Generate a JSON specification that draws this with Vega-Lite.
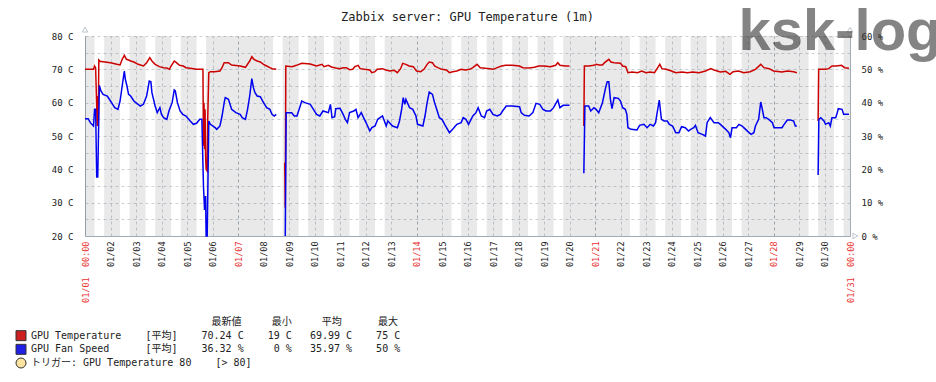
{
"$schema": "https://vega.github.io/schema/vega-lite/v6.json",
"width": 765, "height": 200,
"autosize": {"type": "none"},
"padding": {"left": 85, "top": 36, "right": 86, "bottom": 146},
"background": "white",
"title": {"text": "Zabbix server: GPU Temperature (1m)", "font": "DejaVu Sans Mono", "fontSize": 12, "fontWeight": "normal", "color": "#222222", "anchor": "middle", "frame": "group", "offset": -29, "baseline": "alphabetic"},
"config": {"view": {"stroke": null}, "axis": {"domainColor": "#a2acb4", "ticks": false, "labelFont": "DejaVu Sans Mono", "labelColor": "#222222", "gridDash": [3, 3], "gridColor": "#ccd3d8"}},
"datasets": {
"offhours": [
{"start": "2018-01-01T00:00Z", "end": "2018-01-01T09:00Z"},
{"start": "2018-01-01T18:00Z", "end": "2018-01-02T09:00Z"},
{"start": "2018-01-02T18:00Z", "end": "2018-01-03T09:00Z"},
{"start": "2018-01-03T18:00Z", "end": "2018-01-04T09:00Z"},
{"start": "2018-01-04T18:00Z", "end": "2018-01-05T09:00Z"},
{"start": "2018-01-05T18:00Z", "end": "2018-01-08T09:00Z"},
{"start": "2018-01-08T18:00Z", "end": "2018-01-09T09:00Z"},
{"start": "2018-01-09T18:00Z", "end": "2018-01-10T09:00Z"},
{"start": "2018-01-10T18:00Z", "end": "2018-01-11T09:00Z"},
{"start": "2018-01-11T18:00Z", "end": "2018-01-12T09:00Z"},
{"start": "2018-01-12T18:00Z", "end": "2018-01-15T09:00Z"},
{"start": "2018-01-15T18:00Z", "end": "2018-01-16T09:00Z"},
{"start": "2018-01-16T18:00Z", "end": "2018-01-17T09:00Z"},
{"start": "2018-01-17T18:00Z", "end": "2018-01-18T09:00Z"},
{"start": "2018-01-18T18:00Z", "end": "2018-01-19T09:00Z"},
{"start": "2018-01-19T18:00Z", "end": "2018-01-22T09:00Z"},
{"start": "2018-01-22T18:00Z", "end": "2018-01-23T09:00Z"},
{"start": "2018-01-23T18:00Z", "end": "2018-01-24T09:00Z"},
{"start": "2018-01-24T18:00Z", "end": "2018-01-25T09:00Z"},
{"start": "2018-01-25T18:00Z", "end": "2018-01-26T09:00Z"},
{"start": "2018-01-26T18:00Z", "end": "2018-01-29T09:00Z"},
{"start": "2018-01-29T18:00Z", "end": "2018-01-30T09:00Z"},
{"start": "2018-01-30T18:00Z", "end": "2018-01-31T00:00Z"}
],
"temp": [
{"time": "2018-01-01T00:00Z", "value": 70.0, "seg": "a"},
{"time": "2018-01-01T08:00Z", "value": 70.0, "seg": "a"},
{"time": "2018-01-01T09:00Z", "value": 71.0, "seg": "a"},
{"time": "2018-01-01T10:00Z", "value": 70.5, "seg": "a"},
{"time": "2018-01-01T11:30Z", "value": 53, "seg": "a"},
{"time": "2018-01-01T12:00Z", "value": 62, "seg": "a"},
{"time": "2018-01-01T12:30Z", "value": 53, "seg": "a"},
{"time": "2018-01-01T13:00Z", "value": 72.8, "seg": "a"},
{"time": "2018-01-01T14:00Z", "value": 72.4, "seg": "a"},
{"time": "2018-01-01T17:00Z", "value": 72.3, "seg": "a"},
{"time": "2018-01-02T00:00Z", "value": 72.0, "seg": "a"},
{"time": "2018-01-02T06:00Z", "value": 71.5, "seg": "a"},
{"time": "2018-01-02T09:00Z", "value": 71.3, "seg": "a"},
{"time": "2018-01-02T11:00Z", "value": 73.0, "seg": "a"},
{"time": "2018-01-02T13:00Z", "value": 74.2, "seg": "a"},
{"time": "2018-01-02T15:00Z", "value": 73.0, "seg": "a"},
{"time": "2018-01-02T17:00Z", "value": 72.8, "seg": "a"},
{"time": "2018-01-02T19:00Z", "value": 72.5, "seg": "a"},
{"time": "2018-01-02T22:00Z", "value": 72.2, "seg": "a"},
{"time": "2018-01-03T02:00Z", "value": 71.5, "seg": "a"},
{"time": "2018-01-03T07:00Z", "value": 71.0, "seg": "a"},
{"time": "2018-01-03T10:00Z", "value": 72.0, "seg": "a"},
{"time": "2018-01-03T13:00Z", "value": 73.5, "seg": "a"},
{"time": "2018-01-03T15:00Z", "value": 72.5, "seg": "a"},
{"time": "2018-01-03T18:00Z", "value": 71.5, "seg": "a"},
{"time": "2018-01-03T22:00Z", "value": 70.8, "seg": "a"},
{"time": "2018-01-04T02:00Z", "value": 70.5, "seg": "a"},
{"time": "2018-01-04T05:00Z", "value": 70.4, "seg": "a"},
{"time": "2018-01-04T07:30Z", "value": 70.0, "seg": "a"},
{"time": "2018-01-04T09:00Z", "value": 71.0, "seg": "a"},
{"time": "2018-01-04T12:00Z", "value": 72.5, "seg": "a"},
{"time": "2018-01-04T14:00Z", "value": 72.0, "seg": "a"},
{"time": "2018-01-04T17:00Z", "value": 71.2, "seg": "a"},
{"time": "2018-01-04T20:30Z", "value": 71.0, "seg": "a"},
{"time": "2018-01-04T23:00Z", "value": 70.5, "seg": "a"},
{"time": "2018-01-05T03:00Z", "value": 70.3, "seg": "a"},
{"time": "2018-01-05T09:00Z", "value": 70.0, "seg": "a"},
{"time": "2018-01-05T15:00Z", "value": 70.0, "seg": "a"},
{"time": "2018-01-05T15:30Z", "value": 47, "seg": "a"},
{"time": "2018-01-05T16:00Z", "value": 60, "seg": "a"},
{"time": "2018-01-05T16:30Z", "value": 46, "seg": "a"},
{"time": "2018-01-05T17:00Z", "value": 58, "seg": "a"},
{"time": "2018-01-05T17:30Z", "value": 44, "seg": "a"},
{"time": "2018-01-05T18:00Z", "value": 40, "seg": "a"},
{"time": "2018-01-05T19:00Z", "value": 39.5, "seg": "a"},
{"time": "2018-01-05T19:30Z", "value": 55, "seg": "a"},
{"time": "2018-01-05T20:30Z", "value": 69.0, "seg": "a"},
{"time": "2018-01-05T22:00Z", "value": 69.3, "seg": "a"},
{"time": "2018-01-06T02:00Z", "value": 69.3, "seg": "a"},
{"time": "2018-01-06T07:00Z", "value": 69.5, "seg": "a"},
{"time": "2018-01-06T09:00Z", "value": 70.5, "seg": "a"},
{"time": "2018-01-06T11:00Z", "value": 72.0, "seg": "a"},
{"time": "2018-01-06T15:00Z", "value": 72.0, "seg": "a"},
{"time": "2018-01-06T18:00Z", "value": 71.3, "seg": "a"},
{"time": "2018-01-07T02:00Z", "value": 71.0, "seg": "a"},
{"time": "2018-01-07T07:00Z", "value": 70.6, "seg": "a"},
{"time": "2018-01-07T11:00Z", "value": 72.5, "seg": "a"},
{"time": "2018-01-07T13:00Z", "value": 73.8, "seg": "a"},
{"time": "2018-01-07T15:00Z", "value": 73.0, "seg": "a"},
{"time": "2018-01-07T18:00Z", "value": 72.5, "seg": "a"},
{"time": "2018-01-07T21:00Z", "value": 72.2, "seg": "a"},
{"time": "2018-01-08T00:00Z", "value": 71.5, "seg": "a"},
{"time": "2018-01-08T03:00Z", "value": 71.0, "seg": "a"},
{"time": "2018-01-08T06:00Z", "value": 70.5, "seg": "a"},
{"time": "2018-01-08T08:00Z", "value": 70.2, "seg": "a"},
{"time": "2018-01-08T12:00Z", "value": 70.0, "seg": "a"},
{"time": "2018-01-08T20:00Z", "value": 42, "seg": "b"},
{"time": "2018-01-08T20:30Z", "value": 28.5, "seg": "b"},
{"time": "2018-01-08T21:00Z", "value": 71.0, "seg": "b"},
{"time": "2018-01-09T03:00Z", "value": 70.8, "seg": "b"},
{"time": "2018-01-09T07:00Z", "value": 71.2, "seg": "b"},
{"time": "2018-01-09T12:00Z", "value": 71.8, "seg": "b"},
{"time": "2018-01-09T20:00Z", "value": 71.6, "seg": "b"},
{"time": "2018-01-09T23:00Z", "value": 71.3, "seg": "b"},
{"time": "2018-01-10T02:00Z", "value": 71.0, "seg": "b"},
{"time": "2018-01-10T07:00Z", "value": 71.5, "seg": "b"},
{"time": "2018-01-10T09:00Z", "value": 70.8, "seg": "b"},
{"time": "2018-01-10T13:00Z", "value": 71.2, "seg": "b"},
{"time": "2018-01-10T16:00Z", "value": 70.7, "seg": "b"},
{"time": "2018-01-10T20:00Z", "value": 70.4, "seg": "b"},
{"time": "2018-01-11T00:00Z", "value": 70.2, "seg": "b"},
{"time": "2018-01-11T03:00Z", "value": 70.5, "seg": "b"},
{"time": "2018-01-11T06:00Z", "value": 70.5, "seg": "b"},
{"time": "2018-01-11T09:00Z", "value": 69.9, "seg": "b"},
{"time": "2018-01-11T12:00Z", "value": 70.0, "seg": "b"},
{"time": "2018-01-11T14:00Z", "value": 70.8, "seg": "b"},
{"time": "2018-01-11T17:00Z", "value": 71.2, "seg": "b"},
{"time": "2018-01-11T19:00Z", "value": 70.2, "seg": "b"},
{"time": "2018-01-11T23:00Z", "value": 70.0, "seg": "b"},
{"time": "2018-01-12T04:00Z", "value": 69.8, "seg": "b"},
{"time": "2018-01-12T06:00Z", "value": 69.0, "seg": "b"},
{"time": "2018-01-12T09:00Z", "value": 69.3, "seg": "b"},
{"time": "2018-01-12T11:00Z", "value": 70.0, "seg": "b"},
{"time": "2018-01-12T16:00Z", "value": 70.2, "seg": "b"},
{"time": "2018-01-12T19:00Z", "value": 69.8, "seg": "b"},
{"time": "2018-01-12T23:00Z", "value": 69.5, "seg": "b"},
{"time": "2018-01-13T03:00Z", "value": 69.7, "seg": "b"},
{"time": "2018-01-13T06:00Z", "value": 69.0, "seg": "b"},
{"time": "2018-01-13T09:00Z", "value": 70.2, "seg": "b"},
{"time": "2018-01-13T11:00Z", "value": 71.8, "seg": "b"},
{"time": "2018-01-13T14:00Z", "value": 71.5, "seg": "b"},
{"time": "2018-01-13T17:00Z", "value": 71.0, "seg": "b"},
{"time": "2018-01-13T21:00Z", "value": 70.8, "seg": "b"},
{"time": "2018-01-14T00:00Z", "value": 69.5, "seg": "b"},
{"time": "2018-01-14T04:00Z", "value": 69.3, "seg": "b"},
{"time": "2018-01-14T07:00Z", "value": 70.0, "seg": "b"},
{"time": "2018-01-14T10:00Z", "value": 71.5, "seg": "b"},
{"time": "2018-01-14T12:00Z", "value": 72.2, "seg": "b"},
{"time": "2018-01-14T15:00Z", "value": 72.0, "seg": "b"},
{"time": "2018-01-14T17:00Z", "value": 71.0, "seg": "b"},
{"time": "2018-01-14T20:00Z", "value": 70.5, "seg": "b"},
{"time": "2018-01-15T00:00Z", "value": 70.0, "seg": "b"},
{"time": "2018-01-15T04:00Z", "value": 69.8, "seg": "b"},
{"time": "2018-01-15T07:00Z", "value": 69.0, "seg": "b"},
{"time": "2018-01-15T10:00Z", "value": 69.3, "seg": "b"},
{"time": "2018-01-15T14:00Z", "value": 69.5, "seg": "b"},
{"time": "2018-01-15T18:00Z", "value": 70.0, "seg": "b"},
{"time": "2018-01-15T22:00Z", "value": 69.8, "seg": "b"},
{"time": "2018-01-16T02:00Z", "value": 70.0, "seg": "b"},
{"time": "2018-01-16T05:00Z", "value": 70.5, "seg": "b"},
{"time": "2018-01-16T09:00Z", "value": 71.5, "seg": "b"},
{"time": "2018-01-16T12:00Z", "value": 70.5, "seg": "b"},
{"time": "2018-01-16T17:00Z", "value": 70.3, "seg": "b"},
{"time": "2018-01-16T21:00Z", "value": 70.2, "seg": "b"},
{"time": "2018-01-17T00:00Z", "value": 70.0, "seg": "b"},
{"time": "2018-01-17T04:00Z", "value": 70.5, "seg": "b"},
{"time": "2018-01-17T08:00Z", "value": 71.0, "seg": "b"},
{"time": "2018-01-17T12:00Z", "value": 71.2, "seg": "b"},
{"time": "2018-01-17T18:00Z", "value": 71.2, "seg": "b"},
{"time": "2018-01-18T01:00Z", "value": 71.0, "seg": "b"},
{"time": "2018-01-18T04:00Z", "value": 70.5, "seg": "b"},
{"time": "2018-01-18T10:00Z", "value": 70.4, "seg": "b"},
{"time": "2018-01-18T15:00Z", "value": 70.6, "seg": "b"},
{"time": "2018-01-18T19:00Z", "value": 71.0, "seg": "b"},
{"time": "2018-01-19T00:00Z", "value": 71.0, "seg": "b"},
{"time": "2018-01-19T06:00Z", "value": 70.8, "seg": "b"},
{"time": "2018-01-19T11:00Z", "value": 71.2, "seg": "b"},
{"time": "2018-01-19T13:00Z", "value": 72.0, "seg": "b"},
{"time": "2018-01-19T15:00Z", "value": 71.2, "seg": "b"},
{"time": "2018-01-19T20:00Z", "value": 71.0, "seg": "b"},
{"time": "2018-01-20T00:00Z", "value": 71.0, "seg": "b"},
{"time": "2018-01-20T13:30Z", "value": 53, "seg": "c"},
{"time": "2018-01-20T14:00Z", "value": 71.0, "seg": "c"},
{"time": "2018-01-20T18:00Z", "value": 71.0, "seg": "c"},
{"time": "2018-01-20T23:00Z", "value": 71.2, "seg": "c"},
{"time": "2018-01-21T01:00Z", "value": 71.5, "seg": "c"},
{"time": "2018-01-21T04:00Z", "value": 71.3, "seg": "c"},
{"time": "2018-01-21T07:00Z", "value": 71.3, "seg": "c"},
{"time": "2018-01-21T09:00Z", "value": 72.0, "seg": "c"},
{"time": "2018-01-21T13:00Z", "value": 73.0, "seg": "c"},
{"time": "2018-01-21T15:00Z", "value": 72.2, "seg": "c"},
{"time": "2018-01-21T18:00Z", "value": 72.0, "seg": "c"},
{"time": "2018-01-22T00:00Z", "value": 71.8, "seg": "c"},
{"time": "2018-01-22T02:00Z", "value": 71.0, "seg": "c"},
{"time": "2018-01-22T05:00Z", "value": 70.8, "seg": "c"},
{"time": "2018-01-22T07:00Z", "value": 69.0, "seg": "c"},
{"time": "2018-01-22T11:00Z", "value": 69.2, "seg": "c"},
{"time": "2018-01-22T16:00Z", "value": 69.0, "seg": "c"},
{"time": "2018-01-22T20:00Z", "value": 69.5, "seg": "c"},
{"time": "2018-01-23T00:00Z", "value": 69.0, "seg": "c"},
{"time": "2018-01-23T04:00Z", "value": 69.2, "seg": "c"},
{"time": "2018-01-23T08:00Z", "value": 69.0, "seg": "c"},
{"time": "2018-01-23T11:00Z", "value": 70.5, "seg": "c"},
{"time": "2018-01-23T13:00Z", "value": 71.5, "seg": "c"},
{"time": "2018-01-23T15:00Z", "value": 70.2, "seg": "c"},
{"time": "2018-01-23T19:00Z", "value": 70.0, "seg": "c"},
{"time": "2018-01-24T00:00Z", "value": 69.5, "seg": "c"},
{"time": "2018-01-24T04:00Z", "value": 69.0, "seg": "c"},
{"time": "2018-01-24T10:00Z", "value": 69.2, "seg": "c"},
{"time": "2018-01-24T15:00Z", "value": 69.0, "seg": "c"},
{"time": "2018-01-24T20:00Z", "value": 69.2, "seg": "c"},
{"time": "2018-01-25T02:00Z", "value": 69.0, "seg": "c"},
{"time": "2018-01-25T08:00Z", "value": 69.5, "seg": "c"},
{"time": "2018-01-25T13:00Z", "value": 70.2, "seg": "c"},
{"time": "2018-01-25T16:00Z", "value": 69.8, "seg": "c"},
{"time": "2018-01-25T22:00Z", "value": 69.2, "seg": "c"},
{"time": "2018-01-26T03:00Z", "value": 69.4, "seg": "c"},
{"time": "2018-01-26T07:00Z", "value": 68.5, "seg": "c"},
{"time": "2018-01-26T10:00Z", "value": 69.3, "seg": "c"},
{"time": "2018-01-26T15:00Z", "value": 69.5, "seg": "c"},
{"time": "2018-01-26T20:00Z", "value": 69.0, "seg": "c"},
{"time": "2018-01-27T02:00Z", "value": 69.3, "seg": "c"},
{"time": "2018-01-27T07:00Z", "value": 70.0, "seg": "c"},
{"time": "2018-01-27T12:00Z", "value": 71.5, "seg": "c"},
{"time": "2018-01-27T15:00Z", "value": 70.5, "seg": "c"},
{"time": "2018-01-27T20:00Z", "value": 70.2, "seg": "c"},
{"time": "2018-01-28T00:00Z", "value": 69.5, "seg": "c"},
{"time": "2018-01-28T08:00Z", "value": 69.2, "seg": "c"},
{"time": "2018-01-28T13:00Z", "value": 69.5, "seg": "c"},
{"time": "2018-01-28T19:00Z", "value": 69.3, "seg": "c"},
{"time": "2018-01-28T22:00Z", "value": 69.0, "seg": "c"},
{"time": "2018-01-29T18:00Z", "value": 54.5, "seg": "d"},
{"time": "2018-01-29T18:30Z", "value": 70.0, "seg": "d"},
{"time": "2018-01-30T01:00Z", "value": 70.0, "seg": "d"},
{"time": "2018-01-30T04:00Z", "value": 70.2, "seg": "d"},
{"time": "2018-01-30T07:00Z", "value": 71.0, "seg": "d"},
{"time": "2018-01-30T11:00Z", "value": 71.0, "seg": "d"},
{"time": "2018-01-30T16:00Z", "value": 71.2, "seg": "d"},
{"time": "2018-01-30T19:00Z", "value": 70.5, "seg": "d"},
{"time": "2018-01-30T23:00Z", "value": 70.3, "seg": "d"}
],
"fan": [
{"time": "2018-01-01T00:00Z", "value": 35.2, "seg": "a"},
{"time": "2018-01-01T03:00Z", "value": 35.2, "seg": "a"},
{"time": "2018-01-01T05:00Z", "value": 34.0, "seg": "a"},
{"time": "2018-01-01T08:00Z", "value": 33.0, "seg": "a"},
{"time": "2018-01-01T09:00Z", "value": 38.0, "seg": "a"},
{"time": "2018-01-01T10:00Z", "value": 38.0, "seg": "a"},
{"time": "2018-01-01T11:00Z", "value": 17.7, "seg": "a"},
{"time": "2018-01-01T12:00Z", "value": 17.7, "seg": "a"},
{"time": "2018-01-01T13:30Z", "value": 45.2, "seg": "a"},
{"time": "2018-01-01T15:00Z", "value": 43.5, "seg": "a"},
{"time": "2018-01-01T17:00Z", "value": 42.5, "seg": "a"},
{"time": "2018-01-01T21:00Z", "value": 42.0, "seg": "a"},
{"time": "2018-01-02T00:00Z", "value": 40.5, "seg": "a"},
{"time": "2018-01-02T02:00Z", "value": 39.5, "seg": "a"},
{"time": "2018-01-02T04:00Z", "value": 38.5, "seg": "a"},
{"time": "2018-01-02T07:00Z", "value": 38.0, "seg": "a"},
{"time": "2018-01-02T09:00Z", "value": 40.5, "seg": "a"},
{"time": "2018-01-02T11:00Z", "value": 45.0, "seg": "a"},
{"time": "2018-01-02T13:00Z", "value": 49.5, "seg": "a"},
{"time": "2018-01-02T14:00Z", "value": 47.0, "seg": "a"},
{"time": "2018-01-02T15:30Z", "value": 45.0, "seg": "a"},
{"time": "2018-01-02T17:00Z", "value": 42.5, "seg": "a"},
{"time": "2018-01-02T19:00Z", "value": 42.0, "seg": "a"},
{"time": "2018-01-02T22:00Z", "value": 40.5, "seg": "a"},
{"time": "2018-01-03T02:00Z", "value": 39.5, "seg": "a"},
{"time": "2018-01-03T04:00Z", "value": 39.0, "seg": "a"},
{"time": "2018-01-03T07:00Z", "value": 39.5, "seg": "a"},
{"time": "2018-01-03T10:00Z", "value": 42.0, "seg": "a"},
{"time": "2018-01-03T12:30Z", "value": 46.5, "seg": "a"},
{"time": "2018-01-03T14:00Z", "value": 46.3, "seg": "a"},
{"time": "2018-01-03T15:00Z", "value": 43.0, "seg": "a"},
{"time": "2018-01-03T18:00Z", "value": 39.0, "seg": "a"},
{"time": "2018-01-03T20:00Z", "value": 37.0, "seg": "a"},
{"time": "2018-01-03T22:30Z", "value": 38.5, "seg": "a"},
{"time": "2018-01-04T00:00Z", "value": 36.5, "seg": "a"},
{"time": "2018-01-04T02:00Z", "value": 35.5, "seg": "a"},
{"time": "2018-01-04T05:00Z", "value": 35.0, "seg": "a"},
{"time": "2018-01-04T07:00Z", "value": 37.5, "seg": "a"},
{"time": "2018-01-04T10:00Z", "value": 40.0, "seg": "a"},
{"time": "2018-01-04T12:00Z", "value": 43.8, "seg": "a"},
{"time": "2018-01-04T13:00Z", "value": 43.5, "seg": "a"},
{"time": "2018-01-04T15:00Z", "value": 40.0, "seg": "a"},
{"time": "2018-01-04T17:30Z", "value": 37.5, "seg": "a"},
{"time": "2018-01-04T20:00Z", "value": 36.5, "seg": "a"},
{"time": "2018-01-04T23:00Z", "value": 36.0, "seg": "a"},
{"time": "2018-01-05T03:00Z", "value": 34.5, "seg": "a"},
{"time": "2018-01-05T06:00Z", "value": 33.5, "seg": "a"},
{"time": "2018-01-05T09:00Z", "value": 33.8, "seg": "a"},
{"time": "2018-01-05T12:00Z", "value": 35.0, "seg": "a"},
{"time": "2018-01-05T14:00Z", "value": 35.0, "seg": "a"},
{"time": "2018-01-05T15:30Z", "value": 15.0, "seg": "a"},
{"time": "2018-01-05T16:30Z", "value": 7.8, "seg": "a"},
{"time": "2018-01-05T17:30Z", "value": 12.0, "seg": "a"},
{"time": "2018-01-05T18:00Z", "value": 0, "seg": "a"},
{"time": "2018-01-05T19:00Z", "value": 0, "seg": "a"},
{"time": "2018-01-05T20:30Z", "value": 34.5, "seg": "a"},
{"time": "2018-01-05T22:00Z", "value": 33.5, "seg": "a"},
{"time": "2018-01-06T02:30Z", "value": 32.5, "seg": "a"},
{"time": "2018-01-06T04:00Z", "value": 32.0, "seg": "a"},
{"time": "2018-01-06T07:00Z", "value": 33.0, "seg": "a"},
{"time": "2018-01-06T09:00Z", "value": 36.0, "seg": "a"},
{"time": "2018-01-06T11:00Z", "value": 40.0, "seg": "a"},
{"time": "2018-01-06T12:00Z", "value": 41.5, "seg": "a"},
{"time": "2018-01-06T15:00Z", "value": 41.0, "seg": "a"},
{"time": "2018-01-06T16:30Z", "value": 39.5, "seg": "a"},
{"time": "2018-01-06T18:00Z", "value": 38.0, "seg": "a"},
{"time": "2018-01-06T22:00Z", "value": 37.0, "seg": "a"},
{"time": "2018-01-07T02:00Z", "value": 36.5, "seg": "a"},
{"time": "2018-01-07T04:00Z", "value": 35.5, "seg": "a"},
{"time": "2018-01-07T07:00Z", "value": 35.0, "seg": "a"},
{"time": "2018-01-07T09:00Z", "value": 38.0, "seg": "a"},
{"time": "2018-01-07T11:00Z", "value": 42.0, "seg": "a"},
{"time": "2018-01-07T13:00Z", "value": 47.2, "seg": "a"},
{"time": "2018-01-07T14:30Z", "value": 44.5, "seg": "a"},
{"time": "2018-01-07T16:00Z", "value": 43.0, "seg": "a"},
{"time": "2018-01-07T18:00Z", "value": 42.0, "seg": "a"},
{"time": "2018-01-07T21:00Z", "value": 41.8, "seg": "a"},
{"time": "2018-01-08T00:00Z", "value": 40.0, "seg": "a"},
{"time": "2018-01-08T03:00Z", "value": 38.5, "seg": "a"},
{"time": "2018-01-08T06:00Z", "value": 38.0, "seg": "a"},
{"time": "2018-01-08T08:00Z", "value": 36.5, "seg": "a"},
{"time": "2018-01-08T10:00Z", "value": 36.0, "seg": "a"},
{"time": "2018-01-08T12:00Z", "value": 36.5, "seg": "a"},
{"time": "2018-01-08T20:30Z", "value": 0, "seg": "b"},
{"time": "2018-01-08T21:20Z", "value": 37.0, "seg": "b"},
{"time": "2018-01-09T02:30Z", "value": 37.0, "seg": "b"},
{"time": "2018-01-09T05:00Z", "value": 36.0, "seg": "b"},
{"time": "2018-01-09T07:30Z", "value": 36.0, "seg": "b"},
{"time": "2018-01-09T10:00Z", "value": 38.5, "seg": "b"},
{"time": "2018-01-09T12:00Z", "value": 40.5, "seg": "b"},
{"time": "2018-01-09T15:00Z", "value": 40.0, "seg": "b"},
{"time": "2018-01-09T20:00Z", "value": 39.5, "seg": "b"},
{"time": "2018-01-09T23:00Z", "value": 38.0, "seg": "b"},
{"time": "2018-01-10T02:00Z", "value": 36.5, "seg": "b"},
{"time": "2018-01-10T05:00Z", "value": 36.0, "seg": "b"},
{"time": "2018-01-10T08:00Z", "value": 37.5, "seg": "b"},
{"time": "2018-01-10T13:00Z", "value": 37.0, "seg": "b"},
{"time": "2018-01-10T15:00Z", "value": 39.5, "seg": "b"},
{"time": "2018-01-10T16:30Z", "value": 35.5, "seg": "b"},
{"time": "2018-01-10T19:00Z", "value": 35.8, "seg": "b"},
{"time": "2018-01-10T20:00Z", "value": 38.2, "seg": "b"},
{"time": "2018-01-11T00:00Z", "value": 38.3, "seg": "b"},
{"time": "2018-01-11T03:00Z", "value": 36.5, "seg": "b"},
{"time": "2018-01-11T05:00Z", "value": 35.0, "seg": "b"},
{"time": "2018-01-11T07:00Z", "value": 34.0, "seg": "b"},
{"time": "2018-01-11T09:00Z", "value": 37.0, "seg": "b"},
{"time": "2018-01-11T13:00Z", "value": 37.5, "seg": "b"},
{"time": "2018-01-11T15:00Z", "value": 38.0, "seg": "b"},
{"time": "2018-01-11T17:00Z", "value": 35.5, "seg": "b"},
{"time": "2018-01-11T20:00Z", "value": 37.0, "seg": "b"},
{"time": "2018-01-11T23:00Z", "value": 35.0, "seg": "b"},
{"time": "2018-01-12T02:00Z", "value": 33.0, "seg": "b"},
{"time": "2018-01-12T04:00Z", "value": 31.5, "seg": "b"},
{"time": "2018-01-12T06:00Z", "value": 32.5, "seg": "b"},
{"time": "2018-01-12T09:00Z", "value": 33.0, "seg": "b"},
{"time": "2018-01-12T11:30Z", "value": 35.0, "seg": "b"},
{"time": "2018-01-12T16:00Z", "value": 36.0, "seg": "b"},
{"time": "2018-01-12T19:30Z", "value": 33.0, "seg": "b"},
{"time": "2018-01-12T21:00Z", "value": 34.5, "seg": "b"},
{"time": "2018-01-13T01:30Z", "value": 33.0, "seg": "b"},
{"time": "2018-01-13T06:00Z", "value": 32.5, "seg": "b"},
{"time": "2018-01-13T08:00Z", "value": 34.5, "seg": "b"},
{"time": "2018-01-13T10:00Z", "value": 38.0, "seg": "b"},
{"time": "2018-01-13T11:30Z", "value": 41.5, "seg": "b"},
{"time": "2018-01-13T13:00Z", "value": 39.5, "seg": "b"},
{"time": "2018-01-13T14:00Z", "value": 41.0, "seg": "b"},
{"time": "2018-01-13T17:30Z", "value": 38.5, "seg": "b"},
{"time": "2018-01-13T20:30Z", "value": 38.0, "seg": "b"},
{"time": "2018-01-13T23:30Z", "value": 36.0, "seg": "b"},
{"time": "2018-01-14T01:00Z", "value": 33.5, "seg": "b"},
{"time": "2018-01-14T06:00Z", "value": 33.0, "seg": "b"},
{"time": "2018-01-14T08:00Z", "value": 36.0, "seg": "b"},
{"time": "2018-01-14T10:00Z", "value": 40.0, "seg": "b"},
{"time": "2018-01-14T12:00Z", "value": 43.2, "seg": "b"},
{"time": "2018-01-14T15:00Z", "value": 42.5, "seg": "b"},
{"time": "2018-01-14T17:00Z", "value": 40.0, "seg": "b"},
{"time": "2018-01-14T19:00Z", "value": 38.0, "seg": "b"},
{"time": "2018-01-14T21:30Z", "value": 35.5, "seg": "b"},
{"time": "2018-01-15T00:00Z", "value": 35.0, "seg": "b"},
{"time": "2018-01-15T02:30Z", "value": 33.5, "seg": "b"},
{"time": "2018-01-15T07:00Z", "value": 31.0, "seg": "b"},
{"time": "2018-01-15T10:00Z", "value": 32.0, "seg": "b"},
{"time": "2018-01-15T14:00Z", "value": 33.5, "seg": "b"},
{"time": "2018-01-15T18:00Z", "value": 34.0, "seg": "b"},
{"time": "2018-01-15T20:00Z", "value": 35.5, "seg": "b"},
{"time": "2018-01-15T22:30Z", "value": 35.0, "seg": "b"},
{"time": "2018-01-16T01:00Z", "value": 33.5, "seg": "b"},
{"time": "2018-01-16T05:00Z", "value": 36.0, "seg": "b"},
{"time": "2018-01-16T08:00Z", "value": 37.0, "seg": "b"},
{"time": "2018-01-16T10:00Z", "value": 38.5, "seg": "b"},
{"time": "2018-01-16T13:00Z", "value": 36.0, "seg": "b"},
{"time": "2018-01-16T16:00Z", "value": 35.5, "seg": "b"},
{"time": "2018-01-16T18:00Z", "value": 37.5, "seg": "b"},
{"time": "2018-01-16T21:00Z", "value": 38.0, "seg": "b"},
{"time": "2018-01-17T00:00Z", "value": 36.5, "seg": "b"},
{"time": "2018-01-17T04:00Z", "value": 36.0, "seg": "b"},
{"time": "2018-01-17T07:00Z", "value": 36.5, "seg": "b"},
{"time": "2018-01-17T09:00Z", "value": 37.5, "seg": "b"},
{"time": "2018-01-17T12:30Z", "value": 39.0, "seg": "b"},
{"time": "2018-01-17T18:00Z", "value": 39.0, "seg": "b"},
{"time": "2018-01-18T01:00Z", "value": 38.8, "seg": "b"},
{"time": "2018-01-18T02:30Z", "value": 37.0, "seg": "b"},
{"time": "2018-01-18T05:30Z", "value": 36.2, "seg": "b"},
{"time": "2018-01-18T10:00Z", "value": 36.0, "seg": "b"},
{"time": "2018-01-18T13:30Z", "value": 37.0, "seg": "b"},
{"time": "2018-01-18T16:30Z", "value": 39.8, "seg": "b"},
{"time": "2018-01-18T20:00Z", "value": 39.5, "seg": "b"},
{"time": "2018-01-18T23:00Z", "value": 38.0, "seg": "b"},
{"time": "2018-01-19T02:00Z", "value": 37.5, "seg": "b"},
{"time": "2018-01-19T06:00Z", "value": 37.5, "seg": "b"},
{"time": "2018-01-19T09:00Z", "value": 38.5, "seg": "b"},
{"time": "2018-01-19T13:00Z", "value": 40.8, "seg": "b"},
{"time": "2018-01-19T15:00Z", "value": 38.5, "seg": "b"},
{"time": "2018-01-19T18:00Z", "value": 39.2, "seg": "b"},
{"time": "2018-01-20T00:00Z", "value": 39.2, "seg": "b"},
{"time": "2018-01-20T13:30Z", "value": 18.8, "seg": "c"},
{"time": "2018-01-20T14:30Z", "value": 39.0, "seg": "c"},
{"time": "2018-01-20T18:00Z", "value": 39.0, "seg": "c"},
{"time": "2018-01-20T20:00Z", "value": 37.5, "seg": "c"},
{"time": "2018-01-20T23:00Z", "value": 38.5, "seg": "c"},
{"time": "2018-01-21T01:00Z", "value": 38.0, "seg": "c"},
{"time": "2018-01-21T03:30Z", "value": 37.0, "seg": "c"},
{"time": "2018-01-21T07:00Z", "value": 40.0, "seg": "c"},
{"time": "2018-01-21T10:00Z", "value": 44.5, "seg": "c"},
{"time": "2018-01-21T11:30Z", "value": 46.3, "seg": "c"},
{"time": "2018-01-21T13:00Z", "value": 46.3, "seg": "c"},
{"time": "2018-01-21T14:30Z", "value": 41.0, "seg": "c"},
{"time": "2018-01-21T16:00Z", "value": 38.2, "seg": "c"},
{"time": "2018-01-21T18:00Z", "value": 41.5, "seg": "c"},
{"time": "2018-01-21T22:00Z", "value": 41.3, "seg": "c"},
{"time": "2018-01-22T00:00Z", "value": 40.5, "seg": "c"},
{"time": "2018-01-22T02:00Z", "value": 38.5, "seg": "c"},
{"time": "2018-01-22T04:30Z", "value": 38.0, "seg": "c"},
{"time": "2018-01-22T06:00Z", "value": 36.5, "seg": "c"},
{"time": "2018-01-22T07:00Z", "value": 32.5, "seg": "c"},
{"time": "2018-01-22T10:00Z", "value": 32.0, "seg": "c"},
{"time": "2018-01-22T15:30Z", "value": 31.8, "seg": "c"},
{"time": "2018-01-22T18:00Z", "value": 33.2, "seg": "c"},
{"time": "2018-01-22T22:00Z", "value": 33.5, "seg": "c"},
{"time": "2018-01-23T01:00Z", "value": 32.5, "seg": "c"},
{"time": "2018-01-23T04:00Z", "value": 33.5, "seg": "c"},
{"time": "2018-01-23T07:00Z", "value": 33.0, "seg": "c"},
{"time": "2018-01-23T09:00Z", "value": 34.0, "seg": "c"},
{"time": "2018-01-23T10:30Z", "value": 37.0, "seg": "c"},
{"time": "2018-01-23T12:30Z", "value": 40.8, "seg": "c"},
{"time": "2018-01-23T14:30Z", "value": 35.0, "seg": "c"},
{"time": "2018-01-23T17:00Z", "value": 34.5, "seg": "c"},
{"time": "2018-01-23T20:00Z", "value": 34.5, "seg": "c"},
{"time": "2018-01-23T22:00Z", "value": 33.5, "seg": "c"},
{"time": "2018-01-24T01:00Z", "value": 33.0, "seg": "c"},
{"time": "2018-01-24T04:00Z", "value": 31.0, "seg": "c"},
{"time": "2018-01-24T07:00Z", "value": 31.0, "seg": "c"},
{"time": "2018-01-24T09:30Z", "value": 32.8, "seg": "c"},
{"time": "2018-01-24T13:00Z", "value": 32.5, "seg": "c"},
{"time": "2018-01-24T16:00Z", "value": 31.5, "seg": "c"},
{"time": "2018-01-24T18:00Z", "value": 32.0, "seg": "c"},
{"time": "2018-01-24T21:00Z", "value": 32.5, "seg": "c"},
{"time": "2018-01-24T22:30Z", "value": 33.2, "seg": "c"},
{"time": "2018-01-25T01:00Z", "value": 31.0, "seg": "c"},
{"time": "2018-01-25T05:00Z", "value": 30.5, "seg": "c"},
{"time": "2018-01-25T08:00Z", "value": 30.0, "seg": "c"},
{"time": "2018-01-25T09:30Z", "value": 34.0, "seg": "c"},
{"time": "2018-01-25T12:30Z", "value": 35.5, "seg": "c"},
{"time": "2018-01-25T16:00Z", "value": 34.0, "seg": "c"},
{"time": "2018-01-25T20:00Z", "value": 34.0, "seg": "c"},
{"time": "2018-01-25T22:00Z", "value": 33.5, "seg": "c"},
{"time": "2018-01-26T03:00Z", "value": 32.0, "seg": "c"},
{"time": "2018-01-26T06:00Z", "value": 31.0, "seg": "c"},
{"time": "2018-01-26T07:30Z", "value": 29.5, "seg": "c"},
{"time": "2018-01-26T09:00Z", "value": 32.5, "seg": "c"},
{"time": "2018-01-26T13:00Z", "value": 32.5, "seg": "c"},
{"time": "2018-01-26T15:30Z", "value": 33.5, "seg": "c"},
{"time": "2018-01-26T18:30Z", "value": 33.0, "seg": "c"},
{"time": "2018-01-26T20:00Z", "value": 32.5, "seg": "c"},
{"time": "2018-01-27T01:00Z", "value": 31.0, "seg": "c"},
{"time": "2018-01-27T03:00Z", "value": 30.5, "seg": "c"},
{"time": "2018-01-27T05:30Z", "value": 31.0, "seg": "c"},
{"time": "2018-01-27T07:00Z", "value": 33.0, "seg": "c"},
{"time": "2018-01-27T10:00Z", "value": 35.0, "seg": "c"},
{"time": "2018-01-27T12:00Z", "value": 40.2, "seg": "c"},
{"time": "2018-01-27T13:30Z", "value": 38.0, "seg": "c"},
{"time": "2018-01-27T15:00Z", "value": 35.5, "seg": "c"},
{"time": "2018-01-27T17:00Z", "value": 35.5, "seg": "c"},
{"time": "2018-01-27T19:30Z", "value": 35.0, "seg": "c"},
{"time": "2018-01-27T23:00Z", "value": 34.0, "seg": "c"},
{"time": "2018-01-28T00:30Z", "value": 32.5, "seg": "c"},
{"time": "2018-01-28T05:00Z", "value": 32.5, "seg": "c"},
{"time": "2018-01-28T08:00Z", "value": 32.5, "seg": "c"},
{"time": "2018-01-28T10:00Z", "value": 33.5, "seg": "c"},
{"time": "2018-01-28T13:00Z", "value": 34.8, "seg": "c"},
{"time": "2018-01-28T16:00Z", "value": 34.8, "seg": "c"},
{"time": "2018-01-28T19:00Z", "value": 34.5, "seg": "c"},
{"time": "2018-01-28T20:30Z", "value": 33.0, "seg": "c"},
{"time": "2018-01-28T22:00Z", "value": 33.0, "seg": "c"},
{"time": "2018-01-29T18:00Z", "value": 18.3, "seg": "d"},
{"time": "2018-01-29T18:40Z", "value": 35.0, "seg": "d"},
{"time": "2018-01-29T20:30Z", "value": 35.5, "seg": "d"},
{"time": "2018-01-29T23:30Z", "value": 34.5, "seg": "d"},
{"time": "2018-01-30T01:00Z", "value": 33.5, "seg": "d"},
{"time": "2018-01-30T04:00Z", "value": 34.0, "seg": "d"},
{"time": "2018-01-30T05:30Z", "value": 33.0, "seg": "d"},
{"time": "2018-01-30T07:00Z", "value": 35.5, "seg": "d"},
{"time": "2018-01-30T10:30Z", "value": 35.5, "seg": "d"},
{"time": "2018-01-30T12:00Z", "value": 37.0, "seg": "d"},
{"time": "2018-01-30T13:00Z", "value": 38.2, "seg": "d"},
{"time": "2018-01-30T16:30Z", "value": 38.0, "seg": "d"},
{"time": "2018-01-30T18:00Z", "value": 36.5, "seg": "d"},
{"time": "2018-01-30T23:00Z", "value": 36.5, "seg": "d"}
],
"legend": [
{"row": "head", "col": "text", "label": "\u200b\u00a0\u00a0\u00a0\u00a0\u00a0\u00a0\u00a0\u00a0\u00a0\u00a0\u00a0\u00a0\u00a0\u00a0\u00a0\u00a0\u00a0\u00a0\u00a0\u00a0\u00a0\u00a0\u00a0\u00a0\u00a0\u00a0\u00a0\u00a0\u00a0\u00a0最新値\u00a0\u00a0\u00a0\u00a0\u00a0最小\u00a0\u00a0\u00a0\u00a0\u00a0平均\u00a0\u00a0\u00a0\u00a0\u00a0\u00a0最大"},
{"row": "temp", "col": "text", "label": "GPU\u00a0Temperature\u00a0\u00a0\u00a0\u00a0[平均]\u00a0\u00a0\u00a0\u00a070.24\u00a0C\u00a0\u00a0\u00a0\u00a019\u00a0C\u00a0\u00a0\u00a069.99\u00a0C\u00a0\u00a0\u00a0\u00a075\u00a0C"},
{"row": "fan", "col": "text", "label": "GPU\u00a0Fan\u00a0Speed\u00a0\u00a0\u00a0\u00a0\u00a0\u00a0[平均]\u00a0\u00a0\u00a0\u00a036.32\u00a0%\u00a0\u00a0\u00a0\u00a0\u00a00\u00a0%\u00a0\u00a0\u00a035.97\u00a0%\u00a0\u00a0\u00a0\u00a050\u00a0%"},
{"row": "trig", "col": "text", "label": "トリガー:\u00a0GPU\u00a0Temperature\u00a080\u00a0\u00a0\u00a0\u00a0[>\u00a080]"}
],
"swatches": [
{"row": "temp", "col": "swatch", "series": "GPU Temperature"},
{"row": "fan", "col": "swatch", "series": "GPU Fan Speed"},
{"row": "trig", "col": "swatch", "series": "trigger"}
]
},
"layer": [
{
"layer": [
{
"data": {"name": "offhours"},
"mark": {"type": "rect", "color": "#000000", "opacity": 0.085},
"encoding": {
"x": {"field": "start", "type": "temporal", "title": null,
"scale": {"type": "utc", "domain": [1514764800000, 1517356800000]},
"axis": {
"values": [1514764800000, 1514851200000, 1514937600000, 1515024000000, 1515110400000, 1515196800000, 1515283200000, 1515369600000, 1515456000000, 1515542400000, 1515628800000, 1515715200000, 1515801600000, 1515888000000, 1515974400000, 1516060800000, 1516147200000, 1516233600000, 1516320000000, 1516406400000, 1516492800000, 1516579200000, 1516665600000, 1516752000000, 1516838400000, 1516924800000, 1517011200000, 1517097600000, 1517184000000, 1517270400000, 1517356800000],
"labelExpr": "utcdate(datum.value) == 1 || utcdate(datum.value) == 31 ? utcFormat(datum.value, '%m/%d\u00a0\u00a0%H:%M') : utcFormat(datum.value, '%m/%d')",
"labelAngle": -90, "labelFontSize": 8.5, "labelPadding": 5, "labelOverlap": false, "labelFlush": false, "labelBound": false,
"labelColor": {"condition": {"test": "utcday(datum.value) == 0 || utcdate(datum.value) == 1 || utcdate(datum.value) == 31", "value": "#e8322f"}, "value": "#222222"},
"grid": true,
"gridColor": {"condition": {"test": "utcday(datum.value) == 0", "value": "#a9b3ba"}, "value": "#ccd3d8"}
}},
"x2": {"field": "end"}
}
},
{
"data": {"name": "temp"},
"mark": {"type": "line", "color": "#cc0000", "strokeWidth": 1.5},
"encoding": {
"x": {"field": "time", "type": "temporal", "title": null, "axis": null, "scale": {"type": "utc", "domain": [1514764800000, 1517356800000]}},
"y": {"field": "value", "type": "quantitative", "title": null, "scale": {"domain": [20, 80], "nice": false, "zero": false},
"axis": {"values": [20, 25, 30, 35, 40, 45, 50, 55, 60, 65, 70, 75, 80], "labelExpr": "datum.value % 10 == 0 ? datum.value + ' C' : ''", "grid": true, "labelFontSize": 9, "labelPadding": 12}},
"detail": {"field": "seg"}
}
},
{
"data": {"name": "fan"},
"mark": {"type": "line", "color": "#0000f0", "strokeWidth": 1.5},
"encoding": {
"x": {"field": "time", "type": "temporal", "title": null, "axis": null, "scale": {"type": "utc", "domain": [1514764800000, 1517356800000]}},
"y": {"field": "value", "type": "quantitative", "title": null, "scale": {"domain": [0, 60], "nice": false, "zero": false},
"axis": {"orient": "right", "values": [0, 10, 20, 30, 40, 50, 60], "labelExpr": "datum.value + ' %'", "grid": false, "labelFontSize": 9, "labelPadding": 11}},
"detail": {"field": "seg"}
}
},
{
"data": {"values": [{"axis": "left"}]},
"mark": {"type": "point", "shape": "triangle-up", "filled": false, "stroke": "#a2acb4", "strokeWidth": 1, "size": 30},
"encoding": {
"x": {"datum": 1514764800000, "type": "temporal", "axis": null, "scale": {"type": "utc", "domain": [1514764800000, 1517356800000]}},
"y": {"datum": 81.9, "type": "quantitative", "scale": {"domain": [20, 80], "nice": false, "zero": false}, "axis": null}
}
},
{
"data": {"values": [{"axis": "right"}]},
"mark": {"type": "point", "shape": "triangle-up", "filled": false, "stroke": "#a2acb4", "strokeWidth": 1, "size": 30},
"encoding": {
"x": {"datum": 1517356800000, "type": "temporal", "axis": null, "scale": {"type": "utc", "domain": [1514764800000, 1517356800000]}},
"y": {"datum": 81.9, "type": "quantitative", "scale": {"domain": [20, 80], "nice": false, "zero": false}, "axis": null}
}
},
{
"data": {"values": [{"axis": "bottom"}]},
"mark": {"type": "point", "shape": "triangle-right", "filled": false, "stroke": "#a2acb4", "strokeWidth": 1, "size": 30},
"encoding": {
"x": {"datum": 1517374800000, "type": "temporal", "axis": null, "scale": {"type": "utc", "domain": [1514764800000, 1517356800000]}},
"y": {"datum": 20, "type": "quantitative", "scale": {"domain": [20, 80], "nice": false, "zero": false}, "axis": null}
}
},
{
"data": {"values": [{"label": "ksk-log"}]},
"mark": {"type": "text", "align": "left", "baseline": "alphabetic", "font": "Liberation Sans", "fontWeight": "bold", "fontSize": 58, "color": "#333333", "opacity": 0.6},
"encoding": {
"x": {"datum": 1516978800000, "type": "temporal", "axis": null, "scale": {"type": "utc", "domain": [1514764800000, 1517356800000]}},
"y": {"datum": 75.8, "type": "quantitative", "scale": {"domain": [20, 80], "nice": false, "zero": false}, "axis": null},
"text": {"field": "label"}
}
}
],
"resolve": {"scale": {"x": "independent", "y": "independent"}}
},
{
"layer": [
{
"data": {"name": "legend"},
"mark": {"type": "text", "align": "left", "baseline": "middle", "font": "DejaVu Sans Mono, Noto Sans CJK JP", "fontSize": 10, "color": "#222222"},
"encoding": {
"x": {"field": "col", "type": "nominal", "scale": {"type": "point", "domain": ["swatch", "text"], "range": [-64, -54], "padding": 0}, "axis": null},
"y": {"field": "row", "type": "nominal", "scale": {"type": "point", "domain": ["head", "temp", "fan", "trig"], "range": [286, 327], "padding": 0}, "axis": null},
"text": {"field": "label"}
}
},
{
"data": {"name": "swatches"},
"mark": {"type": "point", "filled": true, "size": 100, "stroke": "#333333", "strokeWidth": 1, "opacity": 1},
"encoding": {
"x": {"field": "col", "type": "nominal", "scale": {"type": "point", "domain": ["swatch", "text"], "range": [-64, -54], "padding": 0}, "axis": null},
"y": {"field": "row", "type": "nominal", "scale": {"type": "point", "domain": ["head", "temp", "fan", "trig"], "range": [286, 327], "padding": 0}, "axis": null},
"color": {"field": "series", "type": "nominal", "scale": {"domain": ["GPU Temperature", "GPU Fan Speed", "trigger"], "range": ["#cc1f1f", "#1f1fe6", "#fde3a0"]}, "legend": null},
"shape": {"field": "series", "type": "nominal", "scale": {"domain": ["GPU Temperature", "GPU Fan Speed", "trigger"], "range": ["square", "square", "circle"]}, "legend": null}
}
}
]
}
],
"resolve": {"scale": {"x": "independent", "y": "independent", "color": "independent", "shape": "independent"}}
}
